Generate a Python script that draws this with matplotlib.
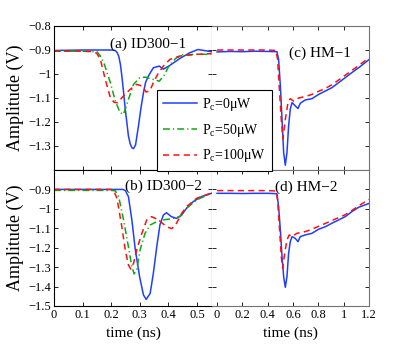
import matplotlib
matplotlib.use('Agg')
from matplotlib import pyplot as plt
from matplotlib.lines import Line2D

plt.rcParams['font.family'] = ['Liberation Serif', 'DejaVu Serif']
plt.rcParams['mathtext.fontset'] = 'custom'
plt.rcParams['mathtext.rm'] = 'Liberation Serif'
plt.rcParams['mathtext.it'] = 'Liberation Serif:italic'
plt.rcParams['axes.unicode_minus'] = True

# ---- data ----
ta_blue = [0, 0.05, 0.1, 0.15, 0.2, 0.214, 0.22, 0.226, 0.232, 0.237, 0.243, 0.249, 0.26, 0.266, 0.272, 0.278,
           0.285, 0.295, 0.304, 0.3125, 0.32, 0.33, 0.347, 0.368, 0.382, 0.405, 0.44, 0.475, 0.503, 0.55]
va_blue = [-0.902, -0.901, -0.900, -0.900, -0.900, -0.902, -0.910, -0.925, -0.960, -1.008, -1.075, -1.147, -1.258,
           -1.290, -1.307, -1.311, -1.295, -1.217, -1.140, -1.078, -1.035, -1.008, -0.974, -0.967, -0.980, -0.964,
           -0.935, -0.911, -0.898, -0.907]
ta_green = [0, 0.05, 0.1, 0.15, 0.162, 0.174, 0.197, 0.214, 0.231, 0.243, 0.26, 0.278, 0.30, 0.32, 0.345, 0.368,
            0.385, 0.40, 0.425, 0.45, 0.5, 0.55]
va_green = [-0.905, -0.905, -0.905, -0.907, -0.925, -0.953, -1.036, -1.112, -1.161, -1.168, -1.106, -1.043, -1.015,
            -1.013, -1.022, -1.030, -1.005, -0.970, -0.935, -0.920, -0.918, -0.918]
ta_red = [0, 0.05, 0.1, 0.14, 0.15, 0.162, 0.179, 0.197, 0.21, 0.222, 0.24, 0.266, 0.289, 0.307, 0.322, 0.335,
          0.347, 0.365, 0.382, 0.405, 0.44, 0.5, 0.55]
va_red = [-0.905, -0.905, -0.905, -0.907, -0.915, -0.939, -1.022, -1.099, -1.118, -1.120, -1.095, -1.064, -1.043,
          -1.050, -1.075, -1.070, -1.036, -0.995, -0.967, -0.939, -0.925, -0.918, -0.915]

tb_blue = [0, 0.1, 0.2, 0.24, 0.249, 0.26, 0.272, 0.284, 0.299, 0.3125, 0.322, 0.336, 0.347, 0.359, 0.37, 0.382,
           0.393, 0.41, 0.428, 0.446, 0.463, 0.486, 0.515, 0.55]
vb_blue = [-0.9, -0.9, -0.9, -0.9, -0.905, -0.937, -1.057, -1.21, -1.349, -1.443, -1.466, -1.435, -1.332, -1.195,
           -1.083, -1.032, -1.02, -1.04, -1.049, -1.032, -0.997, -0.963, -0.937, -0.92]
tb_green = [0, 0.1, 0.2, 0.214, 0.226, 0.243, 0.26, 0.272, 0.28, 0.289, 0.301, 0.318, 0.336, 0.359, 0.382, 0.417,
            0.44, 0.463, 0.498, 0.55]
vb_green = [-0.905, -0.905, -0.905, -0.907, -0.937, -1.057, -1.195, -1.297, -1.335, -1.314, -1.21, -1.126, -1.083,
            -1.066, -1.057, -1.049, -1.04, -0.997, -0.954, -0.92]
tb_red = [0, 0.1, 0.2, 0.208, 0.22, 0.237, 0.249, 0.26, 0.268, 0.278, 0.289, 0.307, 0.324, 0.341, 0.365, 0.393,
          0.412, 0.428, 0.446, 0.463, 0.498, 0.55]
vb_red = [-0.9, -0.9, -0.9, -0.905, -0.946, -1.092, -1.212, -1.289, -1.31, -1.28, -1.21, -1.126, -1.057, -1.04,
          -1.057, -1.092, -1.102, -1.074, -1.023, -0.989, -0.946, -0.918]

tc_blue = [0, 0.1, 0.2, 0.3, 0.4, 0.473, 0.486, 0.5, 0.513, 0.526, 0.539, 0.552, 0.565, 0.578, 0.592, 0.618,
           0.639, 0.657, 0.697, 0.749, 0.802, 0.855, 0.907, 0.96, 1.013, 1.065, 1.118, 1.2]
vc_blue = [-0.908, -0.906, -0.907, -0.905, -0.906, -0.907, -0.939, -1.05, -1.189, -1.328, -1.38, -1.328, -1.217,
           -1.147, -1.119, -1.133, -1.144, -1.122, -1.108, -1.103, -1.085, -1.071, -1.057, -1.036, -1.015, -0.994,
           -0.974, -0.94]
tc_red = [0, 0.1, 0.2, 0.3, 0.4, 0.465, 0.478, 0.494, 0.507, 0.52, 0.539, 0.56, 0.578, 0.605, 0.644, 0.697, 0.749,
          0.802, 0.855, 0.907, 0.96, 1.013, 1.065, 1.118, 1.2]
vc_red = [-0.9, -0.9, -0.9, -0.9, -0.9, -0.902, -0.939, -1.078, -1.19, -1.27, -1.189, -1.119, -1.103, -1.113, -1.100,
          -1.094, -1.085, -1.072, -1.06, -1.045, -1.025, -1.005, -0.985, -0.965, -0.932]

td_blue = tc_blue
vd_blue = [-0.92, -0.92, -0.921, -0.92, -0.92, -0.922, -0.989, -1.109, -1.246, -1.349, -1.404, -1.349, -1.229,
           -1.169, -1.143, -1.152, -1.169, -1.143, -1.134, -1.126, -1.105, -1.092, -1.074, -1.057, -1.04, -1.014,
           -0.992, -0.972]
td_red = [0, 0.1, 0.2, 0.3, 0.4, 0.465, 0.478, 0.494, 0.507, 0.518, 0.534, 0.552, 0.57, 0.592, 0.63, 0.697, 0.749,
          0.802, 0.855, 0.907, 0.96, 1.013, 1.065, 1.118, 1.2]
vd_red = [-0.906, -0.906, -0.906, -0.906, -0.906, -0.908, -0.954, -1.109, -1.246, -1.306, -1.229, -1.16, -1.134,
          -1.143, -1.126, -1.117, -1.105, -1.09, -1.075, -1.06, -1.045, -1.03, -1.008, -0.985, -0.951]

labels = ['P$_\\mathrm{c}$=0\u03bcW', 'P$_\\mathrm{c}$=50\u03bcW', 'P$_\\mathrm{c}$=100\u03bcW']

blue = '#1f3fff'
green = '#10a810'
red = '#ff1010'
lw = 1.1
ls_solid = '-'
ls_dashdot = (0, (4.5, 2.0, 0.8, 2.0))
ls_dash = (0, (4.0, 2.8))

W, H = 415, 359
fig = plt.figure(figsize=(W / 100, H / 100), dpi=100)

def box(l, r, t, b):
    return [l / W, (H - b) / H, (r - l) / W, (b - t) / H]

ax_a = fig.add_axes(box(54, 212, 26, 170))
ax_b = fig.add_axes(box(54, 212, 170, 306))
ax_c = fig.add_axes(box(212, 369, 26, 170))
ax_d = fig.add_axes(box(212, 369, 170, 306))

ax_a.plot(ta_blue, va_blue, linestyle=ls_solid, color=blue, lw=lw)
ax_a.plot(ta_green, va_green, linestyle=ls_dashdot, color=green, lw=lw)
ax_a.plot(ta_red, va_red, linestyle=ls_dash, color=red, lw=lw)

ax_b.plot(tb_blue, vb_blue, linestyle=ls_solid, color=blue, lw=lw)
ax_b.plot(tb_green, vb_green, linestyle=ls_dashdot, color=green, lw=lw)
ax_b.plot(tb_red, vb_red, linestyle=ls_dash, color=red, lw=lw)

ax_c.plot(tc_blue, vc_blue, linestyle=ls_solid, color=blue, lw=lw)
ax_c.plot(tc_red, vc_red, linestyle=ls_dash, color=red, lw=lw)

ax_d.plot(td_blue, vd_blue, linestyle=ls_solid, color=blue, lw=lw)
ax_d.plot(td_red, vd_red, linestyle=ls_dash, color=red, lw=lw)

for ax in (ax_a, ax_b):
    ax.set_xlim(0, 0.552)
    ax.set_xticks([0, 0.1, 0.2, 0.3, 0.4, 0.5])
for ax in (ax_c, ax_d):
    ax.set_xlim(-0.04, 1.2)
    ax.set_xticks([0, 0.2, 0.4, 0.6, 0.8, 1.0, 1.2])
    ax.set_yticklabels([])
    for s in ax.spines.values():
        s.set_color('0.45')
    ax.spines['left'].set_visible(False)
for ax in (ax_a, ax_c):
    ax.set_ylim(-1.4, -0.8)
    ax.set_yticks([-1.3, -1.2, -1.1, -1.0, -0.9, -0.8])
    ax.set_xticklabels([])
for ax in (ax_b, ax_d):
    ax.set_ylim(-1.5, -0.8)
    ax.set_yticks([-1.5, -1.4, -1.3, -1.2, -1.1, -1.0, -0.9])
    ax.set_xlabel('time (ns)', fontsize=11, labelpad=4)

ax_a.set_yticklabels(['\u22121.3', '\u22121.2', '\u22121.1', '\u22121', '\u22120.9', '\u22120.8'])
ax_b.set_yticklabels(['\u22121.5', '\u22121.4', '\u22121.3', '\u22121.2', '\u22121.1', '\u22121', '\u22120.9'])
ax_b.set_xticklabels(['0', '0.1', '0.2', '0.3', '0.4', '0.5'])
ax_d.set_xticklabels(['0', '0.2', '0.4', '0.6', '0.8', '1', '1.2'])

for ax in (ax_a, ax_b, ax_c, ax_d):
    ax.tick_params(direction='in', top=True, right=True, length=3, width=0.6, labelsize=9, pad=2)
    for s in ax.spines.values():
        s.set_linewidth(0.8)

ax_a.set_ylabel('Amplitude (V)', fontsize=13, labelpad=3)
ax_b.set_ylabel('Amplitude (V)', fontsize=13, labelpad=3)

ax_a.text(0.595, 0.875, '(a) ID300\u22121', transform=ax_a.transAxes, ha='center', va='center', fontsize=11)
ax_b.text(0.69, 0.88, '(b) ID300\u22122', transform=ax_b.transAxes, ha='center', va='center', fontsize=11)
ax_c.text(0.69, 0.81, '(c) HM\u22121', transform=ax_c.transAxes, ha='center', va='center', fontsize=11)
ax_d.text(0.60, 0.875, '(d) HM\u22122', transform=ax_d.transAxes, ha='center', va='center', fontsize=11)

handles = [Line2D([], [], color=blue, lw=lw, linestyle=ls_solid),
           Line2D([], [], color=green, lw=lw, linestyle=ls_dashdot),
           Line2D([], [], color=red, lw=lw, linestyle=ls_dash)]
leg = fig.legend(handles, labels, loc='upper left', bbox_to_anchor=(157 / W, 1 - 90 / H),
                 fontsize=10, frameon=True, fancybox=False, edgecolor='black', framealpha=1,
                 borderaxespad=0, handlelength=2.4, labelspacing=0.62, borderpad=0.45, handletextpad=0.4)
leg.get_frame().set_linewidth(0.8)

fig.savefig('out.png', dpi=100)
